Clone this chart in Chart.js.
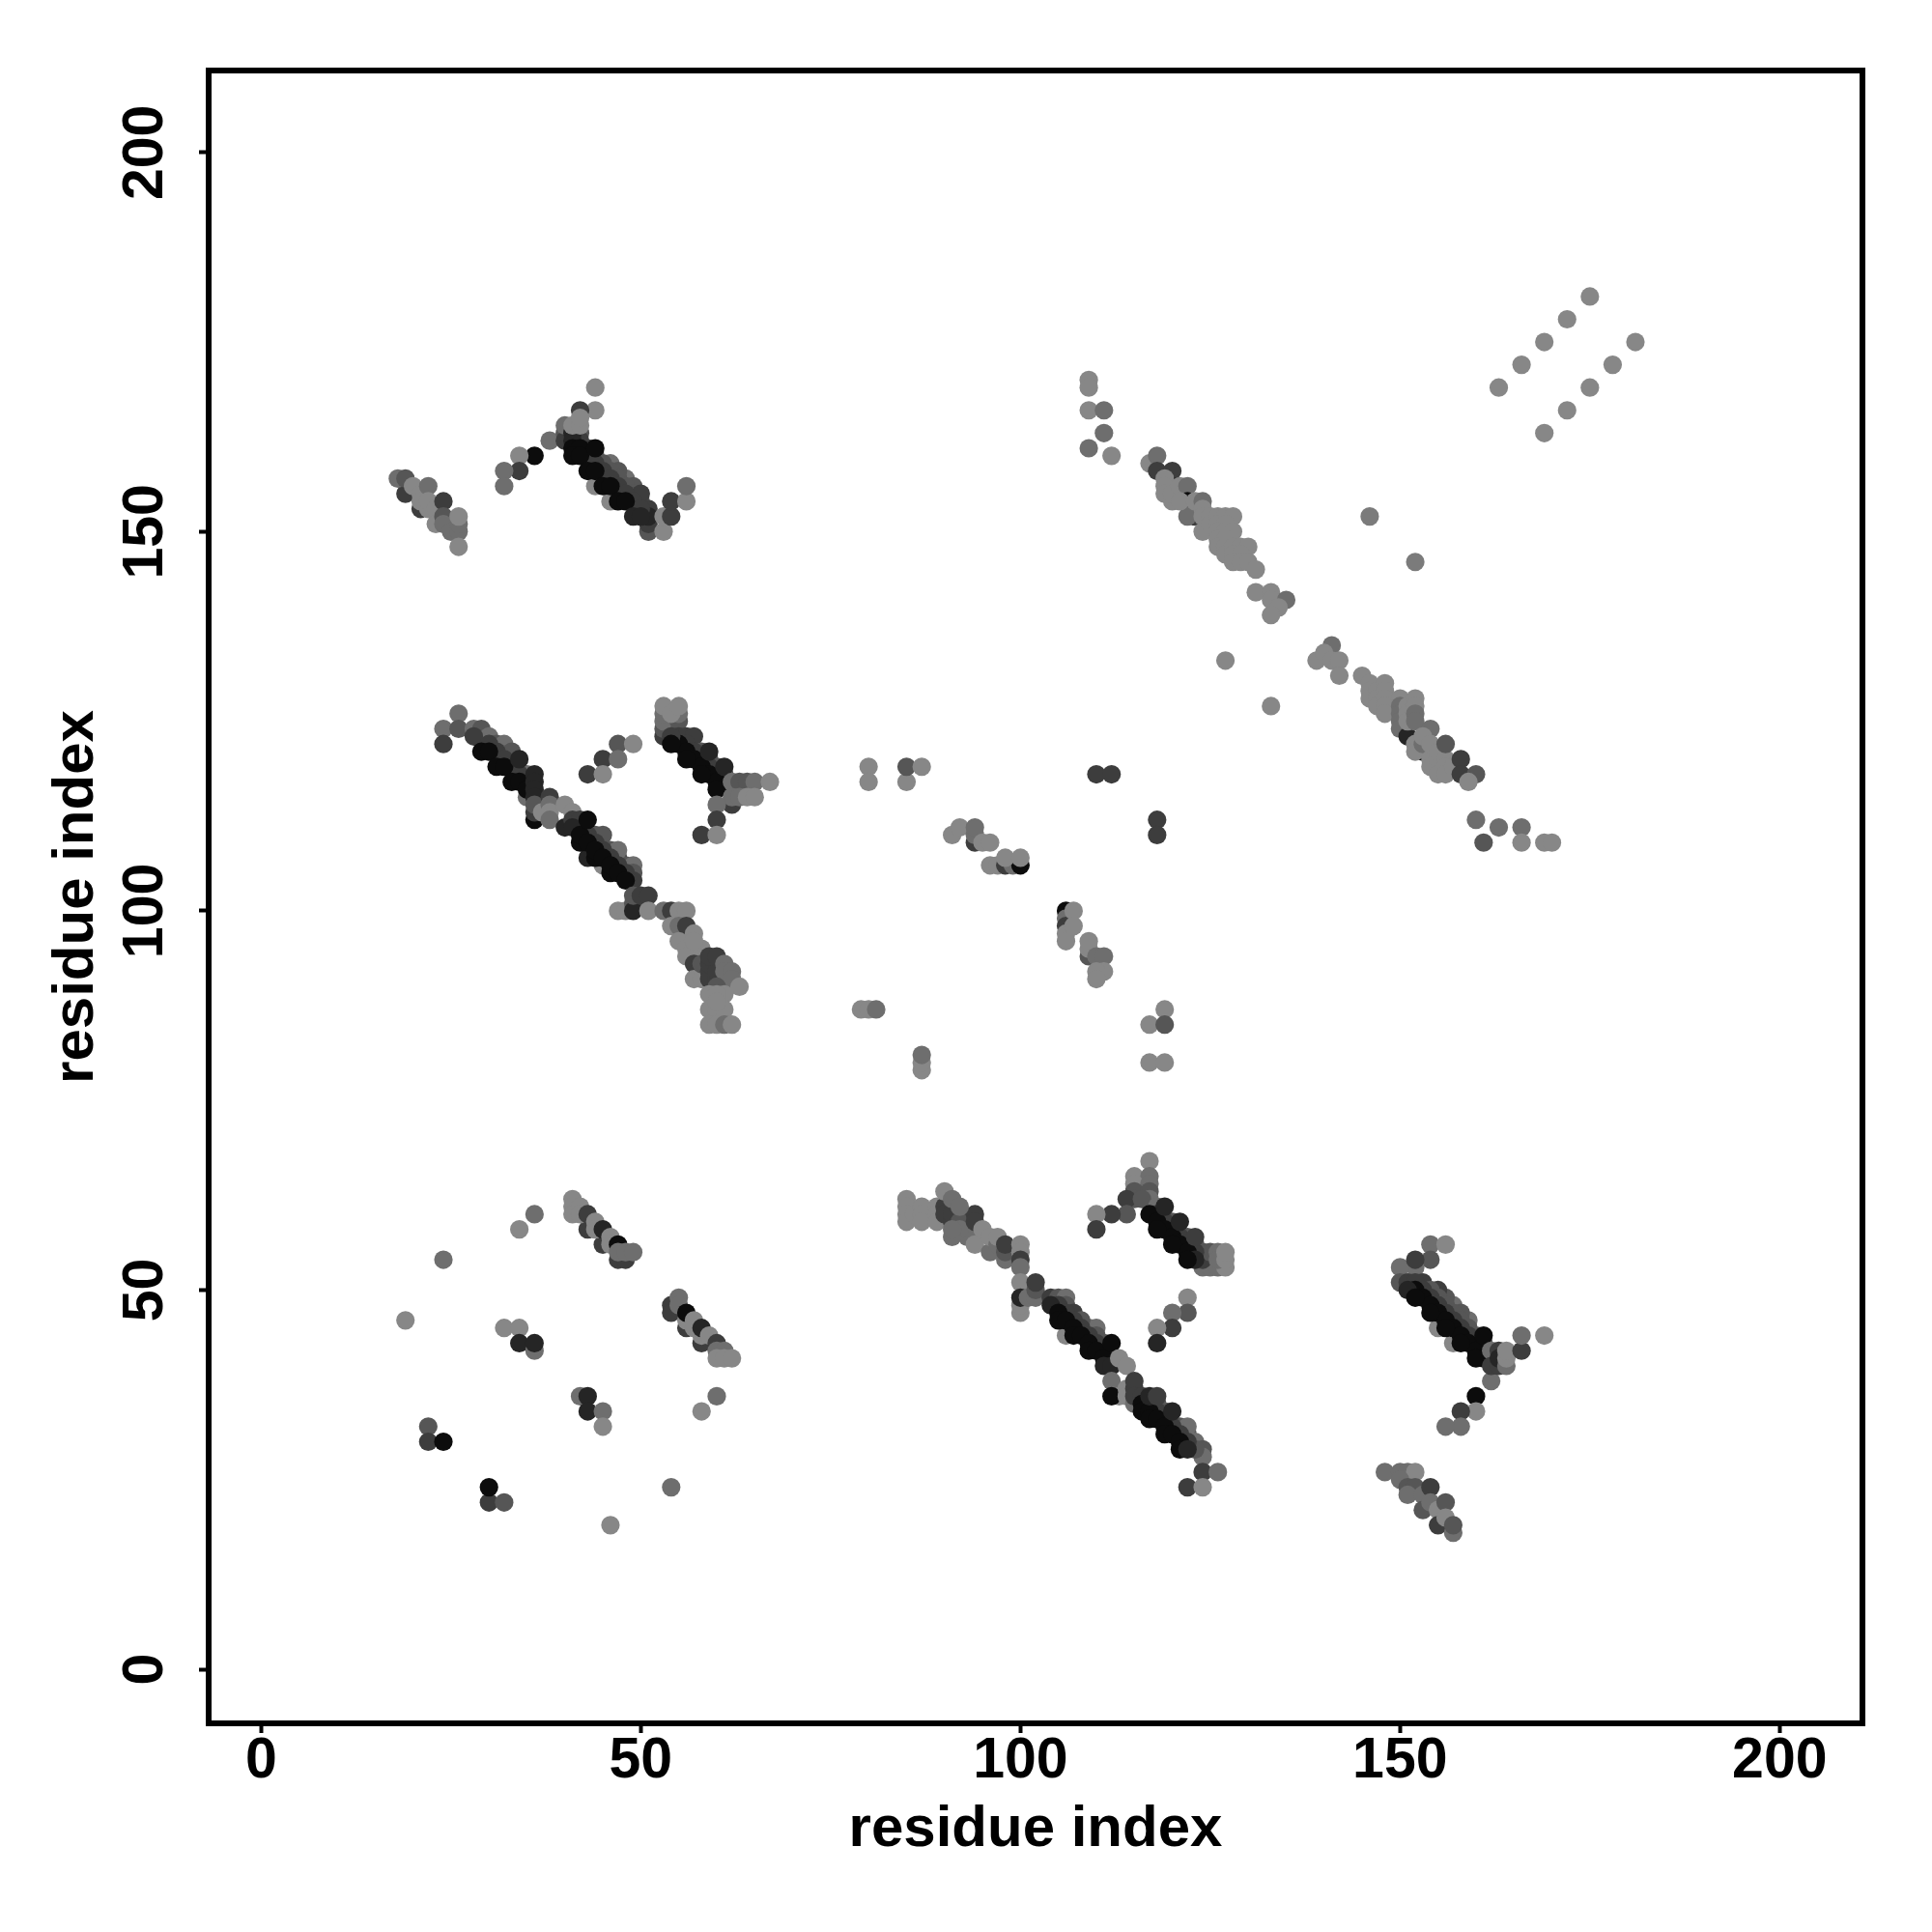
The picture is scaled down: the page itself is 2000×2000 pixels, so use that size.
<!DOCTYPE html>
<html>
<head>
<meta charset="utf-8">
<title>residue contacts</title>
<script src="https://cdn.jsdelivr.net/npm/chart.js@4"></script>
<style>
  body { margin: 0; background: #fff; }
</style>
</head>
<body>
<canvas id="contacts" width="2000" height="2000"></canvas>
<script>
// each row is [residue i, residue j, contact level], level 0 = weak ... 5 = strong
const axisTicks = [0, 50, 100, 150, 200];

const upperLeftEnd = [
  [19,155,3],[18,157,1],[19,157,2],[21,153,3],[20,156,0],[21,155,0],[21,154,0],[22,153,0],[22,156,1],[22,154,0],
  [23,153,0],[24,154,3],[23,151,0],[24,152,2],[24,151,1],[25,150,1],[26,150,1],[26,151,1],[26,152,0],[26,148,0]
];
const upperLeftBridge = [
  [44,169,0],[44,166,0],[42,166,3],[38,162,1],[36,160,5],[34,160,0],[34,158,3],[32,158,1],[32,156,1]
];
const upperLeftStripe = [
  [44,156,0],[46,154,0],[40,163,2],[40,162,3],[40,164,1],
  [46,159,1],[48,157,1],[47,158,2],[49,156,2],[43,161,3],[44,160,2],[45,159,2],[46,158,2],[47,157,2],[48,156,2],[49,155,2],[50,154,2],
  [50,155,3],[51,153,3],[51,150,2],[51,151,3],[51,152,4],[53,150,0],[53,152,0],[54,152,3],[54,154,3],[56,154,0],[56,156,1],
  [42,163,2],[42,162,3],[43,160,3],[44,159,3],[45,158,3],[46,157,3],[47,156,3],[48,155,3],[49,154,3],[50,153,3],
  [41,163,4],[41,162,4],[41,161,5],[42,161,5],
  [41,160,5],[42,160,5],[43,158,5],[44,158,5],[45,156,5],[46,156,5],[47,154,5],[48,154,5],[49,152,4],[50,152,4],
  [41,164,0],[42,164,0],[42,165,0],[44,161,5]
];
const midLeftStripe = [
  [26,126,1],[24,124,1],[26,124,2],[24,122,3],[28,124,1],[29,124,2],[30,123,1],[31,122,2],[32,122,1],[35,118,1],[35,115,1],[33,121,2],
  [28,123,3],[30,122,3],[31,121,3],[32,120,3],[33,119,3],[34,118,3],[35,117,3],
  [29,121,5],[30,121,5],[31,119,5],[32,119,5],[33,117,5],[34,117,5],[35,116,5],
  [34,120,4],[36,118,4],[36,117,4],[36,116,4],[36,115,4],[36,112,5],[36,113,3],[36,114,2],[37,113,0],[38,115,3],[38,114,1],[38,113,0],[38,112,1]
];
const midLeftStripe2 = [
  [40,114,0],[41,113,0],[45,106,0],[43,107,4],[40,111,4],[41,112,3],
  [44,110,2],[45,110,2],[46,108,2],[47,107,3],[48,106,2],[49,106,1],[49,105,2],[49,104,3],[47,108,1],
  [42,112,3],[42,111,3],[43,110,3],[44,109,3],[45,108,3],[46,107,3],[47,106,3],[48,105,3],
  [41,111,4],[42,109,5],[42,110,5],[43,109,5],[44,107,5],[44,108,5],[45,107,5],[46,105,5],[46,106,5],[47,105,5],[48,104,5],[43,112,5]
];
const midLeftTail = [
  [47,100,0],[48,100,0],[49,101,2],[49,100,4],[49,102,2],[50,102,3],[51,102,3],[51,100,0],
  [53,100,1],[54,100,3],[55,100,0],[56,100,0],[54,98,0],[55,98,1],[56,98,3],[57,97,0],[55,96,0],[56,95,0],[58,95,0],[56,94,0],[57,96,0],
  [57,93,3],[57,91,0],[58,91,0],[58,93,2],[59,92,3],[59,91,3],[59,93,3],[60,91,3],[60,92,3],[59,94,3],[60,94,3],[61,93,1],[61,92,1],[62,92,1],[62,91,1],[63,90,0],
  [60,90,2],[61,89,0],[59,89,0],[60,89,0],[59,87,0],[60,87,0],[61,87,0],[60,88,0],[59,85,0],[60,85,0],[61,85,1],[62,85,0]
];
const midLeftBranch = [
  [47,122,2],[49,122,0],[45,120,3],[47,120,1],[43,118,3],[45,118,0]
];
const midRightStripe = [
  [53,123,3],[53,124,2],[53,125,1],[53,126,1],[53,127,0],[55,125,2],[55,126,1],[54,126,0],[55,127,0],
  [55,123,3],[56,123,3],[57,123,3],[58,121,2],[59,120,2],[60,119,2],[61,118,2],
  [56,122,3],[57,121,3],[58,120,3],[59,119,3],[60,118,3],[61,117,3],
  [55,122,5],[56,121,5],[57,120,5],[58,119,5],[59,118,5],[60,117,5],
  [54,123,3],[54,122,5],[56,120,5],[58,118,5],[60,116,5],
  [59,121,4],[61,119,4],
  [62,117,1],[63,117,2],[64,117,2],[65,117,1],[67,117,0],[62,114,3],[62,115,1],[63,115,1],[64,115,0],[65,115,0],
  [60,114,1],[60,112,3],[58,110,3],[60,110,0]
];
const lowerLeftScatter = [
  [36,60,1],[34,58,0],[24,54,1],[19,46,0],[32,45,0],[34,45,0],[34,43,4],[36,42,1],[36,43,4],
  [22,32,2],[22,30,3],[24,30,5],[30,22,3],[32,22,2],[30,24,5],
  [42,36,1],[43,36,4],[43,34,4],[45,34,1],[45,32,0],[60,36,1],[58,34,0],[54,24,1],[46,19,0]
];
const lowerLeftStripes = [
  [43,58,3],[45,56,3],[47,54,3],[48,54,3],[41,62,0],[41,61,0],[41,60,0],[42,61,0],[42,60,0],[43,60,3],[44,59,0],[44,58,0],[45,58,4],[46,57,0],[46,56,0],[47,56,5],[47,55,1],[48,55,1],[49,55,1],
  [54,48,3],[54,47,3],[55,49,1],[55,48,1],[56,45,3],[56,46,0],[56,47,5],[57,46,0],[57,45,0],[58,43,3],[58,44,0],[58,45,4],[59,44,0],[60,43,3],[60,42,1],[61,42,1],[60,41,0],[61,41,0],[62,41,0]
];
const lowerMidTail = [
  [85,62,0],[85,61,0],[85,60,0],[85,59,0],[86,60,0],[87,61,0],[87,60,0],[87,59,0],[89,61,0],[89,60,0],[89,59,0],
  [90,61,3],[90,60,3],[91,59,3],[91,60,3],[93,59,3],[93,58,2],[93,57,1],[92,59,2],[92,58,1],[94,60,3],[94,59,3],[94,56,0],[95,58,0],[96,55,1],[96,57,0],[97,56,1],[97,57,0],[98,54,1],[98,55,2],[98,56,3],
  [90,63,0],[91,62,1],[92,61,1],[91,57,1],[91,58,1],[100,56,0],[100,55,0],[100,54,3],[100,53,1],
  [100,51,0],[100,47,0],[100,48,0],[100,49,4],[101,49,1],[102,49,1],[102,50,2],[102,51,3]
];
const lowerMidStripe = [
  [106,44,0],[109,45,1],[110,45,1],[104,49,3],[105,49,2],[106,49,1],[106,48,2],[107,47,3],[108,46,2],[110,44,2],[111,43,2],
  [105,48,3],[106,47,3],[107,46,3],[108,45,3],[109,44,3],[110,43,3],[111,42,3],[112,41,3],
  [104,48,4],[105,47,5],[105,46,5],[106,46,5],[107,45,5],[107,44,5],[108,44,5],[109,43,5],[109,42,5],[110,42,5],[111,41,5],[111,40,4],[112,40,4],[112,43,5],
  [113,41,0],[114,40,0]
];
const lowerMidStripe2 = [
  [112,38,1],[113,36,0],[112,36,5],[114,37,0],[114,36,0],[115,35,1],[115,37,3],[115,38,3],[115,36,3],
  [118,35,2],[119,34,2],[121,32,2],[122,31,2],[123,30,1],[124,29,2],[124,28,1],[122,32,1],[123,29,2],
  [116,36,3],[117,35,3],[118,34,3],[119,33,3],[120,32,3],[121,31,3],[122,30,3],
  [116,35,5],[116,34,5],[117,34,5],[117,33,5],[118,33,5],[119,32,5],[119,31,5],[120,31,5],[121,30,5],[121,29,5],[122,29,4],
  [117,36,4],[118,36,3],[120,34,4],
  [124,26,3],[126,26,1],[122,24,3],[124,24,0]
];
const lowerMidBranch = [
  [117,67,0],[115,65,0],[117,65,1],[115,64,0],[117,64,1],[115,63,2],[117,63,2],[115,62,2],[114,62,3],[117,62,1],[116,62,2],
  [114,60,2],[112,60,3],[110,60,0],[110,58,3],
  [118,61,1],[120,59,2],[122,57,2],[123,56,2],[124,55,2],[125,54,2],[124,53,1],[125,53,1],[126,53,1],[127,53,0],[124,54,3],[125,55,2],[126,55,1],[126,54,1],[127,54,0],[127,55,0],
  [118,60,3],[119,59,3],[120,58,3],[121,57,3],[122,56,3],[123,55,3],
  [117,60,5],[118,59,5],[119,58,5],[120,57,5],[121,56,5],[122,55,5],[123,54,4],
  [118,58,5],[120,56,5],[122,54,5],[119,61,4],[121,59,4],[123,57,3],
  [122,49,0],[122,47,2],[120,47,1],[120,45,3],[118,45,0],[118,43,4]
];
const lowerRightStripe = [
  [155,45,0],[157,43,0],[154,56,1],[156,56,0],[154,54,2],[152,53,1],[150,53,1],[152,54,3],[150,51,2],[151,51,3],
  [157,48,1],[159,46,1],[158,47,2],[156,49,2],[153,51,3],[155,50,3],[154,50,2],[155,49,2],[156,48,2],[157,47,2],[158,46,2],[159,45,2],[160,44,2],[161,43,2],
  [152,51,3],[153,50,3],[154,49,3],[155,48,3],[156,47,3],[157,46,3],[158,45,3],[159,44,3],[160,43,3],[161,42,3],
  [152,50,5],[153,49,5],[154,48,5],[155,47,5],[156,46,5],[157,45,5],[158,44,5],[159,43,5],[160,42,5],[161,41,5],
  [151,50,4],[152,49,5],[154,47,5],[156,45,5],[158,43,5],[160,41,5],[161,44,5],
  [162,38,1],[162,42,1],[163,42,3],[162,40,3],[163,40,3],[163,41,4],[164,40,1],[164,41,0],[164,42,0],[166,42,3],[166,44,1],[169,44,0],
  [160,36,5],[160,34,0],[158,34,3],[158,32,1],[156,32,1]
];
const lowerRightEnd = [
  [148,26,1],[150,26,1],[151,26,1],[152,26,0],[150,25,1],[151,24,2],[152,24,2],[151,23,1],[153,23,1],[154,24,3],
  [153,21,2],[154,22,1],[155,21,0],[156,22,2],[155,19,3],[156,20,0],[157,18,1],[157,19,2]
];
const upperMidPoints = [
  [80,119,0],[80,117,0],[85,117,0],[85,119,2],[87,119,0],[110,118,3],[112,118,3],[118,112,3],[118,110,3],
  [91,110,0],[92,111,0],[94,109,3],[94,110,1],[94,111,1],[95,109,0],[96,109,0],
  [96,106,0],[97,106,0],[98,106,3],[99,106,1],[100,106,5],[98,107,0],[100,107,0],
  [106,100,5],[106,99,1],[106,98,3],[106,97,0],[106,96,0],[107,100,0],[107,98,0],
  [109,94,2],[109,95,0],[109,96,0],[110,94,1],[111,94,1],[111,92,0],[110,92,0],[110,91,0],
  [79,87,0],[80,87,0],[81,87,1],[87,79,0],[87,80,0],[87,81,1],
  [119,87,0],[117,85,0],[119,85,2],[117,80,0],[119,80,0]
];
const upperRightStripe = [
  [109,170,0],[109,169,0],[109,166,0],[111,166,1],[111,163,1],[109,161,1],[112,160,0],
  [117,159,0],[118,160,1],[118,158,3],[120,158,3],[120,156,4],[119,157,0],[119,156,0],[119,155,0],[120,154,0],[120,155,0],[121,156,0],[122,156,1],
  [122,154,5],[123,153,2],[123,152,3],[122,152,1],[121,154,0],[123,154,0],[124,154,1],[124,153,0],[124,152,0],[125,152,0],[124,150,0],[125,151,0],
  [126,152,0],[127,152,0],[128,152,0],[126,151,0],[127,151,0],[126,150,0],[127,150,0],[128,150,0],[126,149,0],[127,149,0],[126,148,0],[127,148,0],[127,147,0],[128,148,0],[129,148,0],[130,148,0],[128,147,0],[129,147,0],[128,146,0],[129,146,0],[130,146,0],[131,145,0],
  [131,142,0],[133,142,0],[133,141,0],[135,141,1],[134,140,0],[133,139,0],[146,152,0.5],[152,146,0.5],[127,133,0],[133,127,0]
];
const upperRightStripe2 = [
  [141,135,1],[139,133,0],[140,134,0],[141,133,0],[142,133,0],[142,131,0],
  [145,131,0],[146,130,0],[146,129,0],[146,128,0],[147,129,0],[147,128,0],[147,127,0],[148,130,0],[148,129,0],[148,128,0],[148,127,0],[148,126,0],
  [150,128,0],[150,127,1],[150,126,1],[150,125,1],[150,124,1],[151,127,0],[151,126,0],[151,123,4],[153,121,5],[155,119,5],[151,125,0],[152,128,0],[152,127,0],[152,126,1],[152,125,1],
  [152,122,0],[152,121,0],[153,122,1],[154,124,1],[153,123,0],[154,120,0],[154,119,0],[155,120,0],[154,122,0],[155,121,0],[156,120,0],[156,119,0],[155,118,0],[156,118,0],[157,119,0],[156,122,2],
  [158,120,3],[158,118,3],[160,118,2],[159,117,0],
  [160,112,1],[163,111,1],[166,111,1],[161,109,2],[166,109,0],[169,109,0],[170,109,0]
];
const farRightPoints = [
  [175,181,0],[172,178,0],[169,175,0],[166,172,0],[163,169,0],[181,175,0],[178,172,0],[175,169,0],[172,166,0],[169,163,0]
];

const contacts = [
  ...upperLeftEnd, ...upperLeftBridge, ...upperLeftStripe, ...midLeftStripe, ...midLeftStripe2, ...midLeftTail,
  ...midLeftBranch, ...midRightStripe, ...lowerLeftScatter, ...lowerLeftStripes, ...lowerMidTail, ...lowerMidStripe,
  ...lowerMidStripe2, ...lowerMidBranch, ...lowerRightStripe, ...lowerRightEnd, ...upperMidPoints,
  ...upperRightStripe, ...upperRightStripe2, ...farRightPoints
];

function levelColor(level) {
  const g = Math.round(135 - level * 24.6);
  return `rgb(${g},${g},${g})`;
}

// R style box round the plot area
const boxPlugin = {
  id: 'box',
  afterDatasetsDraw(chart) {
    const { ctx, chartArea: a } = chart;
    ctx.save();
    ctx.strokeStyle = '#000';
    ctx.lineWidth = 6;
    ctx.strokeRect(a.left, a.top, a.right - a.left, a.bottom - a.top);
    ctx.restore();
  }
};

const tickFont = { family: '"Liberation Sans"', size: 59, weight: 'bold' };
const titleFont = { family: '"Liberation Sans"', size: 60, weight: 'bold' };
const tickGrid = { drawOnChartArea: false, tickLength: 10, tickWidth: 4, tickColor: '#000' };

new Chart(document.getElementById('contacts'), {
  type: 'scatter',
  data: {
    datasets: [{
      data: contacts.map(c => ({ x: c[0], y: c[1] })),
      pointRadius: 9.6,
      pointHoverRadius: 9.6,
      pointBorderWidth: 0,
      pointBackgroundColor: contacts.map(c => levelColor(c[2])),
    }]
  },
  options: {
    responsive: false,
    animation: false,
    layout: { padding: { top: 73, right: 72, left: 0, bottom: 0 } },
    plugins: { legend: { display: false }, tooltip: { enabled: false } },
    scales: {
      x: {
        type: 'linear',
        min: -6.92,
        max: 210.9,
        afterBuildTicks: s => { s.ticks = axisTicks.map(v => ({ value: v })); },
        afterFit: s => { s.height = 216; },
        grid: tickGrid,
        border: { display: false },
        ticks: { font: tickFont, color: '#000', padding: -6, maxRotation: 0, minRotation: 0, autoSkip: false },
        title: { display: true, text: 'residue index', font: titleFont, color: '#000', padding: { top: 0, bottom: 70 } },
      },
      y: {
        type: 'linear',
        min: -7.13,
        max: 210.8,
        afterBuildTicks: s => { s.ticks = axisTicks.map(v => ({ value: v })); },
        afterFit: s => { s.width = 216; },
        grid: tickGrid,
        border: { display: false },
        ticks: { font: tickFont, color: '#000', padding: 5, minRotation: 90, maxRotation: 90, autoSkip: false, crossAlign: 'center' },
        title: { display: true, text: 'residue index', font: titleFont, color: '#000', padding: { top: 43, bottom: 0 } },
      }
    }
  },
  plugins: [boxPlugin]
});
</script>
</body>
</html>
